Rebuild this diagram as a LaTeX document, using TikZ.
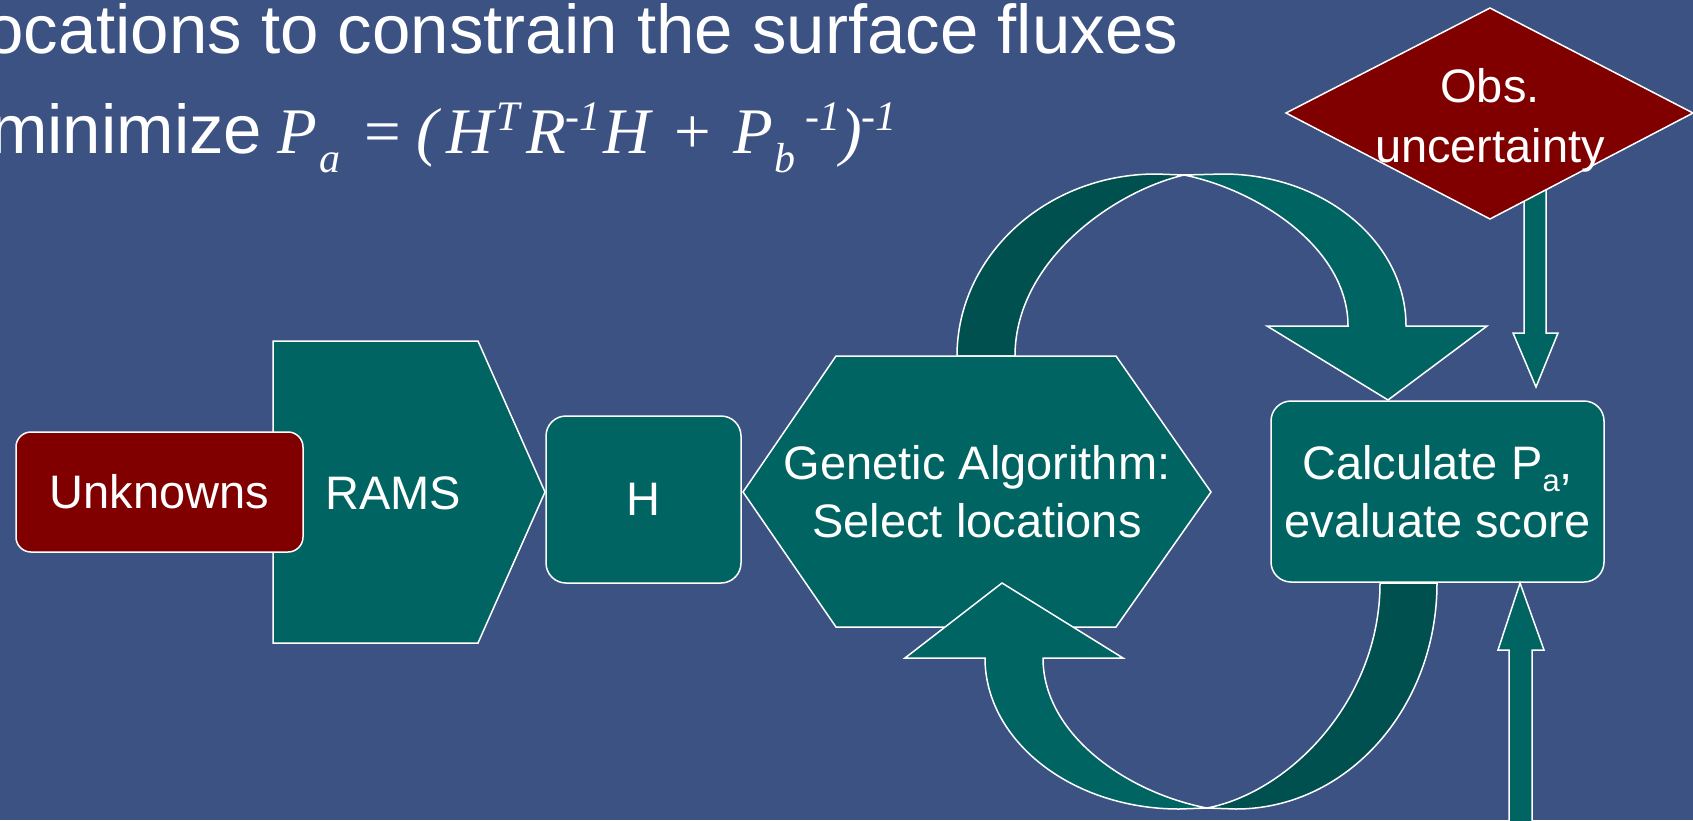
\documentclass[tikz,border=0pt]{standalone}
\usepackage{fontspec}
\setmainfont{Liberation Sans}
\newfontfamily\eqfont{Liberation Serif}
\usetikzlibrary{positioning}

\definecolor{slide}{RGB}{59,82,131}
\definecolor{gaTeal}{RGB}{0,100,98}
\definecolor{tealShade}{RGB}{0,80,80}
\definecolor{obsRed}{RGB}{128,0,0}

\newcommand\boxfont{\fontsize{47}{58}\selectfont}
\newcommand\titlefont{\fontsize{69}{80}\selectfont}
\newcommand\eqsub[1]{\lower19pt\hbox{\fontsize{42}{42}\selectfont #1}}
\newcommand\eqsup[1]{\raise23pt\hbox{\fontsize{42}{42}\selectfont #1}}
\newcommand\lowsub[1]{\lower12pt\hbox{\fontsize{31}{31}\selectfont #1}}

\tikzset{every node/.style={text=white}, % white text everywhere
box/.style={ % rounded process boxes
draw=white,
line width=1.5pt,
fill=gaTeal,
rounded corners=20pt,
inner sep=0pt,
font=\boxfont,
align=center},
redbox/.style={box, fill=obsRed, rounded corners=15pt},
blockshape/.style={ % hand drawn outlines (pentagon, hexagon, arrows)
draw=white,
line width=1.5pt,
fill=gaTeal},
tailband/.style={blockshape, fill=tealShade}, % back half of a curved arrow
boxtext/.style={inner sep=0pt, font=\boxfont, align=center},
headline/.style={inner sep=0pt, anchor=base west, font=\titlefont}}

\begin{document}
\begin{tikzpicture}[x=1pt, y=-1pt]
\fill[slide] (0,0) rectangle (1693,820);
\useasboundingbox (0,0) rectangle (1693,820);

% heading of the slide
\node[headline] (aim) at (-15,53) {ocations to constrain the surface fluxes};
\node[headline] (minword) at (-10,153) {minimize};
\node[headline, right=15pt of minword.base east, anchor=base west] (pa) {\eqfont\fontsize{65}{70}\selectfont\itshape
P\kern2pt\eqsub{a}\kern24pt{\upshape =}\kern15pt(\kern9pt H\kern3pt\eqsup{T}\kern6pt R\eqsup{-1}\kern3pt H\kern24pt{\upshape +}\kern22pt P\kern1pt\eqsub{b}\kern10pt\eqsup{-1})\eqsup{-1}};

% model chain
\draw[blockshape] (273,341) -- (478,341) -- (545,492) -- (478,643) -- (273,643) -- cycle;
\node[boxtext] (rams) at (393,493) {RAMS};
\node[redbox, minimum width=287pt, minimum height=120pt] (unknowns) at (159.5,492) {Unknowns};
\node[box, minimum width=195pt, minimum height=167pt] (hmat) at (643.5,499.5) {H};

% loop arrow over the top
\draw[tailband] (957,356) .. controls (957,256) and (1046,174) .. (1156,174) -- (1184,175)
  .. controls (1112,192) and (1015,262) .. (1015,356) -- cycle;
\draw[blockshape] (1184,175) -- (1223,174) .. controls (1324,174) and (1406,242) .. (1406,326)
  -- (1487,326) -- (1388,400) -- (1267,326) -- (1348,326)
  .. controls (1348,248) and (1258,190) .. (1184,175) -- cycle;

% genetic algorithm
\draw[blockshape] (743,492) -- (836,356) -- (1116,356) -- (1211,492) -- (1116,627) -- (836,627) -- cycle;
\node[boxtext] (ga) at (977,492) {Genetic Algorithm:\\Select locations};

\node[box, minimum width=333pt, minimum height=181pt] (calc) at (1437.5,491.5) {Calculate P\lowsub{a},\\evaluate score};

% loop arrow underneath
\draw[tailband] (1437,583) .. controls (1437,708) and (1347,809) .. (1236,809) -- (1207,808)
  .. controls (1290,792) and (1380,700) .. (1380,583) -- cycle;
\draw[blockshape] (1207,808) -- (1179,809) .. controls (1072,809) and (985,741) .. (985,658)
  -- (905,658) -- (1002,583) -- (1123,658) -- (1043,658)
  .. controls (1043,735) and (1128,793) .. (1207,808) -- cycle;

% straight arrows into calc
\draw[blockshape] (1524,190) -- (1546,190) -- (1546,333) -- (1558,333) -- (1536,387) -- (1513,333) -- (1524,333) -- cycle;
\draw[blockshape] (1520,583) -- (1544,650) -- (1532,650) -- (1532,830) -- (1509,830) -- (1509,650) -- (1498,650) -- cycle;

% observation uncertainty
\draw[blockshape, fill=obsRed] (1490,8) -- (1693,113) -- (1490,219) -- (1286,113) -- cycle;
\node[boxtext, font=\fontsize{47}{60}\selectfont] (obs) at (1490,120) {Obs.\\uncertainty};
\end{tikzpicture}
\end{document}
